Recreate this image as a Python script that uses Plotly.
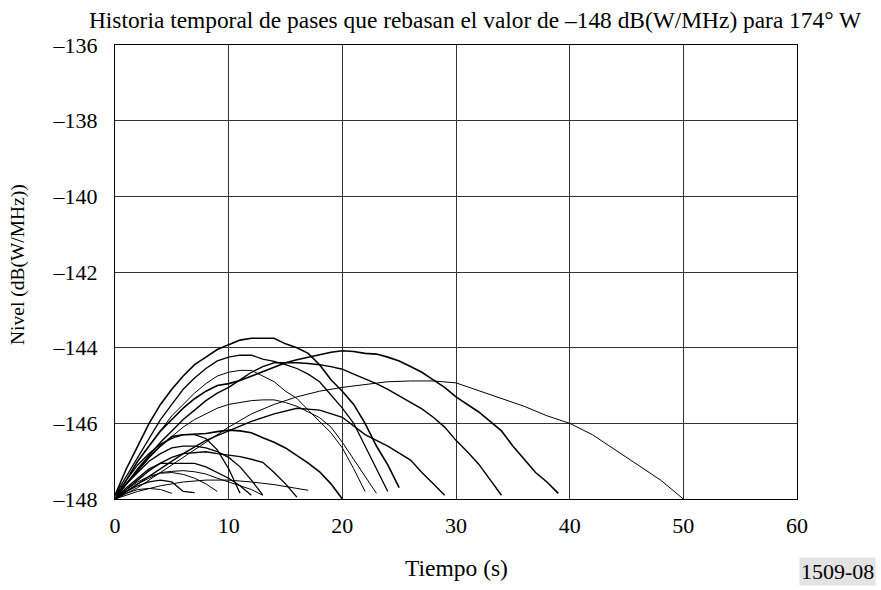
import plotly.graph_objects as go

# Each pass: sample times (s) and levels (dB(W/MHz))
t_c1 = list(range(0, 26))
v_c1 = [-147.9, -147.2, -146.6, -146.0, -145.5, -145.1, -144.75, -144.45, -144.25, -144.05, -143.92, -143.8, -143.75,
        -143.75, -143.75, -143.9, -144.0, -144.15, -144.45, -144.85, -145.15, -145.5, -146.0, -146.6, -147.1, -147.7]

t_d = list(range(0, 25))
v_d = [-147.9, -147.4, -146.9, -146.4, -145.9, -145.5, -145.1, -144.8, -144.55, -144.35, -144.25, -144.2, -144.2,
       -144.3, -144.36, -144.45, -144.55, -144.7, -144.9, -145.25, -145.6, -146.0, -146.6, -147.2, -147.8]

t_f = list(range(0, 23))
v_f = [-147.9, -147.5, -147.0, -146.6, -146.2, -145.8, -145.5, -145.2, -144.95, -144.75, -144.65, -144.6, -144.6,
       -144.76, -144.9, -145.15, -145.34, -145.65, -145.95, -146.25, -146.65, -147.2, -147.8]

t_e = list(range(0, 35))
v_e = [-147.9, -147.6, -147.2, -146.85, -146.5, -146.2, -145.9, -145.65, -145.4, -145.2, -145.05, -144.85, -144.65,
       -144.5, -144.4, -144.4, -144.4, -144.42, -144.45, -144.5, -144.57, -144.7, -144.82, -144.95, -145.1, -145.27,
       -145.44, -145.62, -145.84, -146.1, -146.45, -146.75, -147.08, -147.5, -147.9]

t_b = list(range(0, 40))
v_b = [-148.0, -147.5, -147.0, -146.6, -146.2, -145.9, -145.6, -145.35, -145.15, -145.0, -144.95, -144.87, -144.75,
       -144.62, -144.5, -144.4, -144.32, -144.25, -144.17, -144.12, -144.08, -144.1, -144.15, -144.17, -144.25,
       -144.35, -144.5, -144.65, -144.85, -145.05, -145.3, -145.5, -145.7, -145.95, -146.2, -146.6, -146.95, -147.3,
       -147.55, -147.85]

t_c = list(range(0, 51, 2))
v_c = [-148.0, -147.7, -147.3, -146.9, -146.5, -146.1, -145.75, -145.5, -145.3, -145.15, -145.05, -144.97, -144.9,
       -144.88, -144.88, -144.93, -145.13, -145.35, -145.55, -145.8, -146.0, -146.3, -146.7, -147.1, -147.5, -148.0]

t_g2 = list(range(0, 24))
v_g2 = [-148.0, -147.6, -147.25, -146.9, -146.6, -146.35, -146.1, -145.9, -145.75, -145.6, -145.5, -145.45, -145.4,
        -145.38, -145.38, -145.45, -145.55, -145.7, -145.85, -146.1, -146.5, -146.95, -147.4, -147.85]

t_g = [0, 2, 4, 6, 8, 10, 12, 14, 16, 18, 20, 22, 24, 26, 27, 28, 29]
v_g = [-148.0, -147.6, -147.2, -146.8, -146.45, -146.2, -145.95, -145.75, -145.6, -145.65, -145.84, -146.3, -146.6,
       -146.97, -147.3, -147.6, -147.9]

t_h = list(range(0, 21))
v_h = [-148.0, -147.6, -147.25, -146.9, -146.6, -146.35, -146.3, -146.28, -146.27, -146.22, -146.18, -146.2, -146.25,
       -146.38, -146.5, -146.65, -146.85, -147.05, -147.28, -147.6, -148.0]

t_i = list(range(0, 17))
v_i = [-148.0, -147.75, -147.5, -147.25, -147.05, -146.9, -146.8, -146.77, -146.75, -146.8, -146.84, -146.88, -146.95,
       -147.03, -147.3, -147.6, -147.95]

t_k = [0, 2, 4, 6, 8, 10, 12, 14, 16, 17]
v_k = [-148.0, -147.8, -147.65, -147.55, -147.5, -147.5, -147.55, -147.62, -147.72, -147.77]

t_l = list(range(0, 14))
v_l = [-148.0, -147.8, -147.6, -147.45, -147.3, -147.27, -147.25, -147.28, -147.34, -147.45, -147.55, -147.65, -147.75,
       -147.9]

t_m = list(range(0, 13))
v_m = [-148.0, -147.7, -147.45, -147.2, -147.06, -147.06, -147.06, -147.06, -147.15, -147.3, -147.45, -147.65, -147.9]

t_n = list(range(0, 12))
v_n = [-148.0, -147.5, -147.1, -146.8, -146.55, -146.4, -146.3, -146.3, -146.4, -146.7, -147.2, -147.85]

t_o = list(range(0, 14))
v_o = [-148.0, -147.6, -147.3, -147.0, -146.8, -146.65, -146.6, -146.6, -146.65, -146.75, -146.9, -147.15, -147.5,
       -147.9]

t_p = list(range(0, 10))
v_p = [-148.0, -147.75, -147.55, -147.4, -147.32, -147.3, -147.35, -147.45, -147.6, -147.8]

t_q = list(range(0, 8))
v_q = [-148.0, -147.8, -147.65, -147.55, -147.5, -147.55, -147.8, -147.83]

t_r = list(range(0, 6))
v_r = [-148.0, -147.85, -147.75, -147.72, -147.75, -147.85]

passes = [
    (t_c1, v_c1, 1.6), (t_d, v_d, 1.3), (t_f, v_f, 1.0), (t_e, v_e, 1.4), (t_b, v_b, 1.6),
    (t_c, v_c, 1.0), (t_g2, v_g2, 1.0), (t_g, v_g, 1.4), (t_h, v_h, 1.6), (t_i, v_i, 1.4),
    (t_k, v_k, 1.0), (t_l, v_l, 1.0), (t_m, v_m, 1.3), (t_n, v_n, 1.3), (t_o, v_o, 1.3),
    (t_p, v_p, 1.0), (t_q, v_q, 1.3), (t_r, v_r, 1.0),
]

x_ticks = [0, 10, 20, 30, 40, 50, 60]
y_ticks = [-148, -146, -144, -142, -140, -138, -136]
y_ticktext = ["\u2013148", "\u2013146", "\u2013144", "\u2013142", "\u2013140", "\u2013138", "\u2013136"]

FONT = "Liberation Serif, Times New Roman, serif"

L, R, T, B = 115, 797, 45, 499
W, H = 881, 590
pw, ph = R - L, B - T

fig = go.Figure()
for t, v, w in passes:
    fig.add_trace(go.Scatter(x=t, y=v, mode="lines", line=dict(color="black", width=w),
                             showlegend=False, hoverinfo="skip"))

fig.update_layout(
    width=W, height=H,
    margin=dict(l=L, r=W - R, t=T, b=H - B, autoexpand=False),
    paper_bgcolor="white", plot_bgcolor="white",
    font=dict(family=FONT, size=22, color="black"),
    title=dict(text="Historia temporal de pases que rebasan el valor de \u2013148 dB(W/MHz) para 174\u00b0 W",
               x=475 / W, xanchor="center", y=1 - 20 / H, yanchor="middle",
               font=dict(family=FONT, size=23.4, color="black")),
    xaxis=dict(range=[0, 60], tickvals=x_ticks, ticks="", ticklabelstandoff=7, automargin=False,
               tickfont=dict(family=FONT, size=22),
               showgrid=True, gridcolor="#333333", gridwidth=1,
               showline=True, linecolor="black", linewidth=1, mirror=True, zeroline=False),
    yaxis=dict(range=[-148, -136], tickvals=y_ticks, ticktext=y_ticktext, ticks="", ticklabelstandoff=12,
               automargin=False, tickfont=dict(family=FONT, size=22),
               showgrid=True, gridcolor="#333333", gridwidth=1,
               showline=True, linecolor="black", linewidth=1, mirror=True, zeroline=False),
    annotations=[
        dict(text="Tiempo (s)", xref="paper", yref="paper", x=(456 - L) / pw, y=-(568 - B) / ph,
             xanchor="center", yanchor="middle", showarrow=False,
             font=dict(family=FONT, size=23.5, color="black")),
        dict(text="Nivel (dB(W/MHz))", xref="paper", yref="paper", x=-(L - 18) / pw, y=(B - 264) / ph,
             xanchor="center", yanchor="middle", showarrow=False, textangle=-90,
             font=dict(family=FONT, size=19.5, color="black")),
        dict(text="1509-08", xref="paper", yref="paper", x=(876 - L) / pw, y=-(571 - B) / ph,
             xanchor="right", yanchor="middle", showarrow=False, bgcolor="#e3e3e3",
             font=dict(family=FONT, size=22, color="black"), borderpad=1),
    ],
)

fig.write_html("out.html", config={"displayModeBar": False, "staticPlot": True},
               post_script="document.body.style.margin='0';document.body.style.overflow='hidden';")
